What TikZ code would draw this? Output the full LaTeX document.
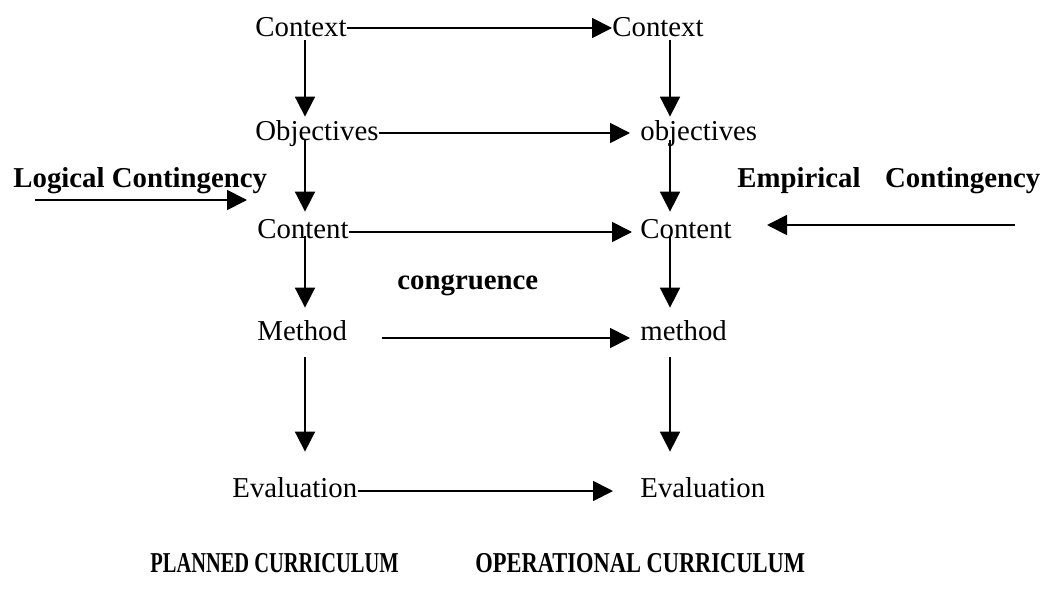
\documentclass[tikz,border=0pt]{standalone}
\usepackage{fontspec}
\usepackage{graphicx}
\setmainfont{Liberation Serif}
\usetikzlibrary{arrows.meta}

\begin{document}
\begin{tikzpicture}[x=0.5pt, y=-0.5pt,
    txt/.style={anchor=base west, inner sep=0pt, text height=9.5pt, text depth=3pt,
                font=\fontsize{14.4}{16}\selectfont},
    hd/.style={txt, font=\fontsize{14.4}{16}\selectfont\bfseries},
    arr/.style={-{Triangle[length=10pt, width=10pt]}, line width=0.9pt}]
    \useasboundingbox (0,0) rectangle (1042,593);

    % Planned curriculum (left column)
    \node[txt] (ctxL) at (255, 37) {Context};
    \node[txt] (objL) at (255, 141) {Objectives};
    \node[txt] (cntL) at (257, 238) {Content};
    \node[txt] (metL) at (257, 340) {Method};
    \node[txt] (evaL) at (232, 497) {Evaluation};

    % Operational curriculum (right column)
    \node[txt] (ctxR) at (612, 37) {Context};
    \node[txt] (objR) at (640, 141) {objectives};
    \node[txt] (cntR) at (640, 238) {Content};
    \node[txt] (metR) at (640, 340) {method};
    \node[txt] (evaR) at (640, 497) {Evaluation};

    % Headings
    \node[hd] (logic) at (13, 188) {Logical Contingency};
    \node[hd] (empir) at (737, 188) {Empirical\hskip0.85em Contingency};
    \node[hd] (cong) at (397, 289) {congruence};
    \node[hd] (plan) at (150, 572) {\scalebox{0.71}[1]{PLANNED CURRICULUM}};
    \node[hd] (oper) at (475, 572) {\scalebox{0.78}[1]{OPERATIONAL CURRICULUM}};

    % Column lines
    \coordinate (colL) at (305, 0);
    \coordinate (colR) at (670, 0);

    % Downward arrows in both columns
    \foreach \a/\b/\s/\e in {ctx/obj/1.5/2.5, obj/cnt/3.5/3.5, cnt/met/4/6.5, met/eva/-5.5/13} {
        \draw[arr] ([yshift=\s pt]\a L.south -| colL) -- ([yshift=\e pt]\b L.north -| colL);
        \draw[arr] ([yshift=\s pt]\a R.south -| colR) -- ([yshift=\e pt]\b R.north -| colR);
    }

    % Congruence arrows, planned to operational
    \draw[arr] ([yshift=4.5pt]ctxL.base east) -- ([yshift=4.5pt]ctxR.base west);
    \draw[arr] ([yshift=4pt]objL.base east) -- ([xshift=-5pt, yshift=4pt]objR.base west);
    \draw[arr] ([yshift=3pt]cntL.base east) -- ([xshift=-4pt, yshift=3pt]cntR.base west);
    \draw[arr] ([xshift=17.5pt, yshift=1pt]metL.base east) -- ([xshift=-5pt, yshift=1pt]metR.base west);
    \draw[arr] ([yshift=3pt]evaL.base east) -- ([xshift=-13.5pt, yshift=3pt]evaR.base west);

    % Contingency arrows
    \coordinate (logicA) at (35, 200);
    \coordinate (logicB) at (247, 200);
    \draw[arr] (logicA) -- (logicB);
    \coordinate (empirA) at (1015, 225);
    \coordinate (empirB) at (767, 225);
    \draw[arr] (empirA) -- (empirB);
\end{tikzpicture}
\end{document}
